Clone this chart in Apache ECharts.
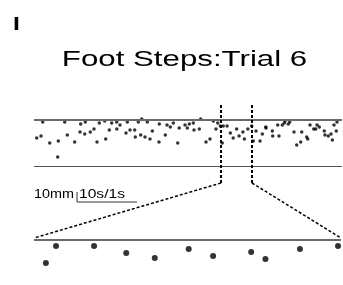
<!DOCTYPE html>
<html>
<head>
<meta charset="utf-8">
<script src="https://cdn.jsdelivr.net/npm/echarts@6.0.0/dist/echarts.min.js"></script>
<style>
  html, body { margin: 0; padding: 0; background: #fff; }
  #main { width: 343px; height: 285px; }
</style>
</head>
<body>
<div id="main"></div>
<script>
// foot step times (s) and vertical position relative to the upper reference line (mm)
var stepTimes = [
  0.45, 1.17, 1.45, 2.62, 3.95, 4.05, 5.12, 5.55, 6.78, 7.67, 7.78, 8.45, 8.55, 9.38, 10.0,
  10.5, 10.88, 11.78, 11.95, 12.55, 12.95, 13.78, 13.8, 14.33, 15.33, 15.55, 16.0, 16.78, 16.88,
  17.38, 17.78, 17.95, 18.5, 18.88, 19.33, 19.72, 20.83, 20.88, 21.88, 22.17, 22.72, 23.22,
  23.95, 24.2, 25.17, 25.55, 25.88, 26.55, 26.67, 27.55, 27.78, 28.67, 29.33, 29.88, 30.33,
  30.62, 31.05, 31.37, 31.54, 32.18, 32.72, 33.2, 33.77, 34.18, 34.82, 35.06, 35.64, 36.28,
  36.55, 37.0, 37.67, 38.05, 38.62, 38.67, 39.72, 39.78, 40.62, 40.83, 41.38, 41.72, 41.83,
  42.38, 42.62, 43.33, 43.78, 44.45, 44.62, 45.45, 45.62, 46.0, 46.62, 46.95, 47.17, 47.55,
  48.38, 48.5, 49.05, 49.5, 49.72, 50.0, 50.38, 50.5
];
var stepOffsets = [
  -18, -16, -2, -23, -37, -21, -2, -15, -22, -12, -4, -14, -2, -12, -9,
  -22, -3, -1, -19, -10, -3, -2, -9, -5, -13, -2, -10, -10, -17,
  -2, -15, 1, -17, -2, -19, -11, -22, -4, -15, -5, -7, -3,
  -23, -8, -5, -8, -4, -3, -10, -9, 1, -22, -19, -1, -9,
  -3, -6, -23, -6, -6, -13, -18, -9, -16, -12, -19, -9, -6,
  -21, -11, -21, -14, -7, -8, -11, -16, -5, -16, -5, -3, -1,
  -4, -2, -12, -25, -22, -12, -17, -19, -5, -9, -9, -5, -7,
  -11, -15, -16, -14, -20, -5, -11, -2
];
var trialLength = 51.33;          // s shown in the overview
var zoomWindow = [31.17, 36.33];  // s shown in the detail panel
var refLines = [0, -46];          // mm
var scaleBarAt = [7.17, -82];     // s, mm (overview units)
var scaleBarSize = 10;            // 10 mm, 10 s
var titleText = 'Foot Steps:Trial 6';
var panelLabel = 'I';

document.addEventListener('DOMContentLoaded', function () {
  var chart = echarts.init(document.getElementById('main'), null, { renderer: 'canvas' });

  var allSteps = stepTimes.map(function (t, i) { return [t, stepOffsets[i]]; });
  var zoomSteps = allSteps.filter(function (p) { return p[0] >= zoomWindow[0] && p[0] <= zoomWindow[1]; });

  var font = 'Liberation Sans, Arial, sans-serif';

  var option = {
    animation: false,
    backgroundColor: '#fff',
    grid: [
      { left: 34, top: 100, width: 308, height: 84 },
      { left: 34, top: 220, width: 307, height: 60 }
    ],
    xAxis: [
      { type: 'value', gridIndex: 0, min: 0, max: trialLength, show: false },
      { type: 'value', gridIndex: 1, min: zoomWindow[0], max: zoomWindow[1], show: false }
    ],
    yAxis: [
      { type: 'value', gridIndex: 0, min: -64, max: 20, show: false },
      { type: 'value', gridIndex: 1, min: -40, max: 20, show: false }
    ],
    series: [
      {
        type: 'scatter', xAxisIndex: 0, yAxisIndex: 0,
        data: allSteps, symbolSize: 3.5,
        itemStyle: { color: '#000' },
        markLine: {
          silent: true, symbol: 'none', label: { show: false },
          data: [
            { yAxis: refLines[0], lineStyle: { color: '#6a6a6a', width: 2, type: 'solid' } },
            { yAxis: refLines[1], lineStyle: { color: '#555', width: 1.2, type: 'solid' } }
          ]
        },
        z: 3
      },
      {
        type: 'scatter', xAxisIndex: 1, yAxisIndex: 1,
        data: zoomSteps, symbolSize: 6,
        itemStyle: { color: '#000' },
        markLine: {
          silent: true, symbol: 'none', label: { show: false },
          data: [{ yAxis: refLines[0], lineStyle: { color: '#6a6a6a', width: 2, type: 'solid' } }]
        },
        z: 3
      }
    ]
  };
  chart.setOption(option);

  // connector lines and scale bar placed from the axes
  function px(g, p) { return chart.convertToPixel({ gridIndex: g }, p); }
  var leftPts = [px(0, [zoomWindow[0], 15]), px(0, [zoomWindow[0], -63]), px(1, [zoomWindow[0], 2])];
  var rightPts = [px(0, [zoomWindow[1], 15]), px(0, [zoomWindow[1], -63]), px(1, [zoomWindow[1], 2])];
  var sb0 = px(0, scaleBarAt);
  var sbUp = px(0, [scaleBarAt[0], scaleBarAt[1] + scaleBarSize]);
  var sbRight = px(0, [scaleBarAt[0] + scaleBarSize, scaleBarAt[1]]);

  function dashed(p1, p2, w) {
    return {
      type: 'line', silent: true, z: 10,
      shape: { x1: p1[0], y1: p1[1], x2: p2[0], y2: p2[1] },
      style: { stroke: '#000', lineWidth: w, lineDash: [3, 2] }
    };
  }
  function solid(p1, p2) {
    return {
      type: 'line', silent: true, z: 10,
      shape: { x1: p1[0], y1: p1[1], x2: p2[0], y2: p2[1] },
      style: { stroke: '#333', lineWidth: 1 }
    };
  }
  function label(text, x, y, size, weight, align, sx) {
    return {
      type: 'text', x: x, y: y, scaleX: sx, silent: true, z: 10,
      style: {
        text: text, fill: '#000',
        font: weight + ' ' + size + 'px ' + font,
        textAlign: align, textVerticalAlign: 'middle', align: align, verticalAlign: 'middle'
      }
    };
  }

  chart.setOption({
    graphic: [
      dashed(leftPts[0], leftPts[1], 2),
      dashed(leftPts[1], leftPts[2], 1.5),
      dashed(rightPts[0], rightPts[1], 2),
      dashed(rightPts[1], rightPts[2], 1.5),
      solid(sbUp, sb0),
      solid(sb0, sbRight),
      label('10mm', sb0[0] - 3, sb0[1] - 7, 12, 'normal', 'right', 1.2),
      label('10s/1s', sb0[0] + 2, sb0[1] - 7, 12, 'normal', 'left', 1.3),
      label(titleText, 184.5, 60, 22, 'normal', 'center', 1.42),
      label(panelLabel, 13, 25, 19, 'bold', 'left', 1.3)
    ]
  });
});
</script>
</body>
</html>
